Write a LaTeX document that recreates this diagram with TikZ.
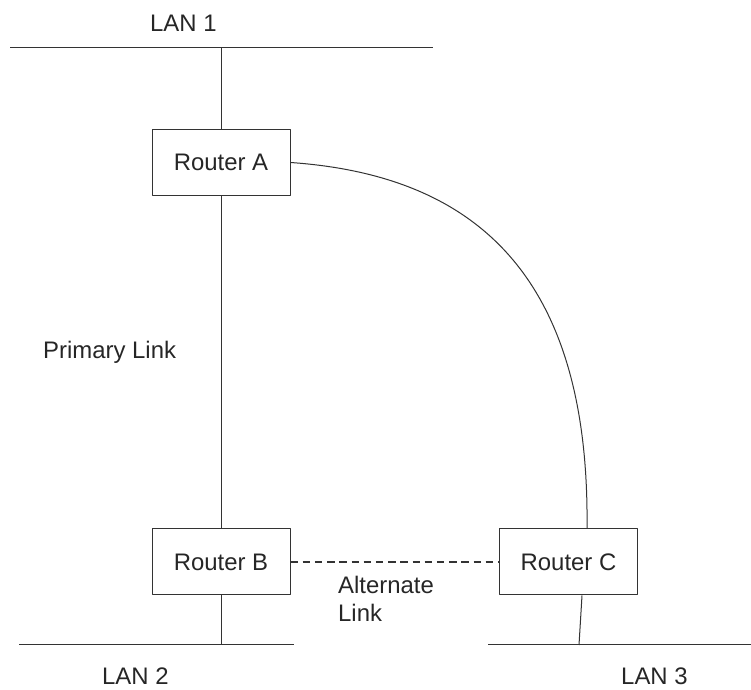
\documentclass[tikz,border=0pt]{standalone}
\usepackage{fontspec}
\setmainfont{Liberation Sans}
\begin{document}
\begin{tikzpicture}[line join=bevel,
    every node/.style={font=\fontsize{24}{28}\selectfont,text=black!85},
    router/.style={draw=black!80,line width=1bp,rectangle,inner sep=0pt,minimum width=138bp,minimum height=66bp},
    lbl/.style={inner sep=0pt},
    wire/.style={draw=black!80,line width=1bp},
    altwire/.style={draw=black!80,line width=1.4bp,dash pattern=on 7.5bp off 4.7bp}]
        \useasboundingbox (0bp,0bp) rectangle (751bp,690bp);
        %%
        \node (ra) at (221.0bp,527.5bp) [router] {Router A};
        \node (rb) at (221.0bp,128.0bp) [router] {Router B};
        \node (rc) at (568.5bp,128.0bp) [router] {Router C};
        \node (lan1) at (150.0bp,658.0bp) [lbl,anchor=base west] {LAN 1};
        \node (lan2) at (102.0bp,6.0bp) [lbl,anchor=base west] {LAN 2};
        \node (lan3) at (621.0bp,6.0bp) [lbl,anchor=base west] {LAN 3};
        \node (primary) at (43.0bp,331.0bp) [lbl,anchor=base west] {Primary Link};
        \node (alternate) at (338.0bp,114.0bp) [lbl,anchor=north west,align=left] {Alternate\\Link};
        \coordinate (lan1w) at (10.0bp,642.0bp);
        \coordinate (lan1e) at (433.0bp,642.0bp);
        \coordinate (lan1tap) at (221.0bp,642.0bp);
        \coordinate (lan2w) at (19.0bp,45.0bp);
        \coordinate (lan2e) at (294.0bp,45.0bp);
        \coordinate (lan2tap) at (221.0bp,45.0bp);
        \coordinate (lan3w) at (488.0bp,45.0bp);
        \coordinate (lan3e) at (751.0bp,45.0bp);
        \coordinate (lan3tap) at (579.0bp,45.0bp);
        \draw [wire] (lan1w) -- (lan1e);
        \draw [wire] (lan2w) -- (lan2e);
        \draw [wire] (lan3w) -- (lan3e);
        \draw [wire] (lan1tap) -- (ra);
        \draw [wire] (ra) -- (rb);
        \draw [wire] (rb) -- (lan2tap);
        \draw [wire] (ra.east) ..controls (470.0bp,515.0bp) and (590.0bp,420.0bp)  .. ([xshift=18.5bp]rc.north);
        \draw [wire] ([xshift=13.5bp]rc.south) -- (lan3tap);
        \draw [altwire] (rb.east) -- (rc.west);
        %
    \end{tikzpicture}
\end{document}
